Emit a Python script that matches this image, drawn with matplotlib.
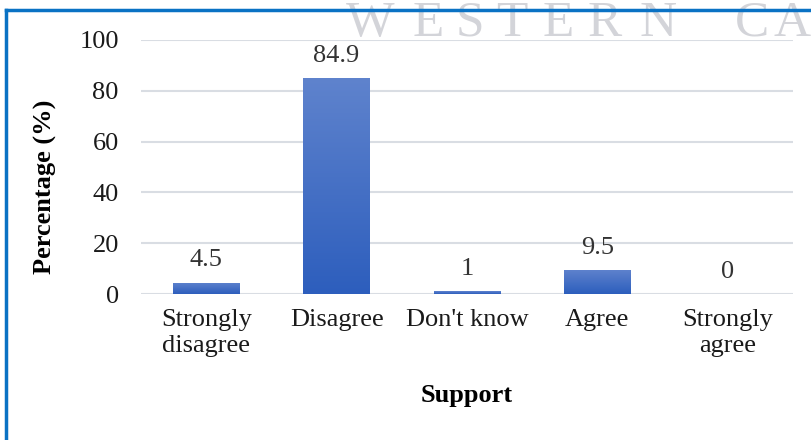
import matplotlib.pyplot as plt
import numpy as np
from matplotlib.colors import LinearSegmentedColormap
from matplotlib.lines import Line2D

categories = ["Strongly\ndisagree", "Disagree", "Don't know", "Agree", "Strongly\nagree"]
values = [4.5, 84.9, 1, 9.5, 0]
value_labels = ["4.5", "84.9", "1", "9.5", "0"]
yticks = [0, 20, 40, 60, 80, 100]

plt.rcParams['font.family'] = ['Liberation Serif', 'DejaVu Serif']

fig = plt.figure(figsize=(8.12, 4.4), dpi=100)
ax = fig.add_axes([141 / 812, 1 - 294 / 440, 652 / 812, 254 / 440])

x = np.arange(len(categories))
bars = ax.bar(x, values, width=0.51, color='none', edgecolor='none', zorder=3)

# vertical gradient in each bar, lighter at top
grad_cmap = LinearSegmentedColormap.from_list('bar', ['#2d5ebd', '#5f83cd'])
grad = np.linspace(0, 1, 256).reshape(-1, 1)
for b in bars:
    h = b.get_height()
    if h <= 0:
        continue
    x0 = b.get_x()
    im = ax.imshow(grad, cmap=grad_cmap, origin='lower', aspect='auto',
                   extent=[x0, x0 + b.get_width(), 0, h], zorder=3)
    im.set_clip_path(b)

for xi, v, lab in zip(x, values, value_labels):
    ax.annotate(lab, (xi, v), xytext=(0, 8), textcoords='offset points',
                ha='center', va='bottom', fontsize=19, color='#333333')

ax.set_xlim(-0.5, len(categories) - 0.5)
ax.set_ylim(0, 100)
ax.set_yticks(yticks)
ax.set_xticks(x)
ax.set_xticklabels(categories, fontsize=19, color='#1a1a1a', linespacing=1.2)
ax.tick_params(axis='y', labelsize=19, labelcolor='#1a1a1a', length=0, pad=16)
ax.tick_params(axis='x', length=0, pad=11)
ax.grid(axis='y', color='#d9dde3', linewidth=1.5, zorder=0)
ax.set_axisbelow(True)
for s in ax.spines.values():
    s.set_visible(False)

fig.text(45 / 812, 1 - 187 / 440, "Percentage (%)", rotation=90, ha='center', va='center',
         fontsize=19, fontweight='bold', color='#000000')
fig.text(467 / 812, 1 - 395 / 440, "Support", ha='center', va='center',
         fontsize=19, fontweight='bold', color='#000000')

# watermark behind the chart frame
wm_letters = ["W", "E", "S", "T", "E", "R", "N", "C", "A"]
wm_x = [370, 428, 470, 512, 558, 605, 658, 752, 792]
for ch, px in zip(wm_letters, wm_x):
    fig.text(px / 812, 1 - 36 / 440, ch, ha='center', va='baseline', fontsize=37,
             color='#c9cad0', alpha=0.8, zorder=0)

# chart frame (blue)
fig.add_artist(Line2D([6 / 812, 6 / 812], [0, 1 - 10 / 440], transform=fig.transFigure,
                      color='#0a72c4', linewidth=2.5))
fig.add_artist(Line2D([6 / 812, 1], [1 - 10 / 440, 1 - 10 / 440], transform=fig.transFigure,
                      color='#0a72c4', linewidth=2.5))

fig.savefig("out.png", dpi=100)
